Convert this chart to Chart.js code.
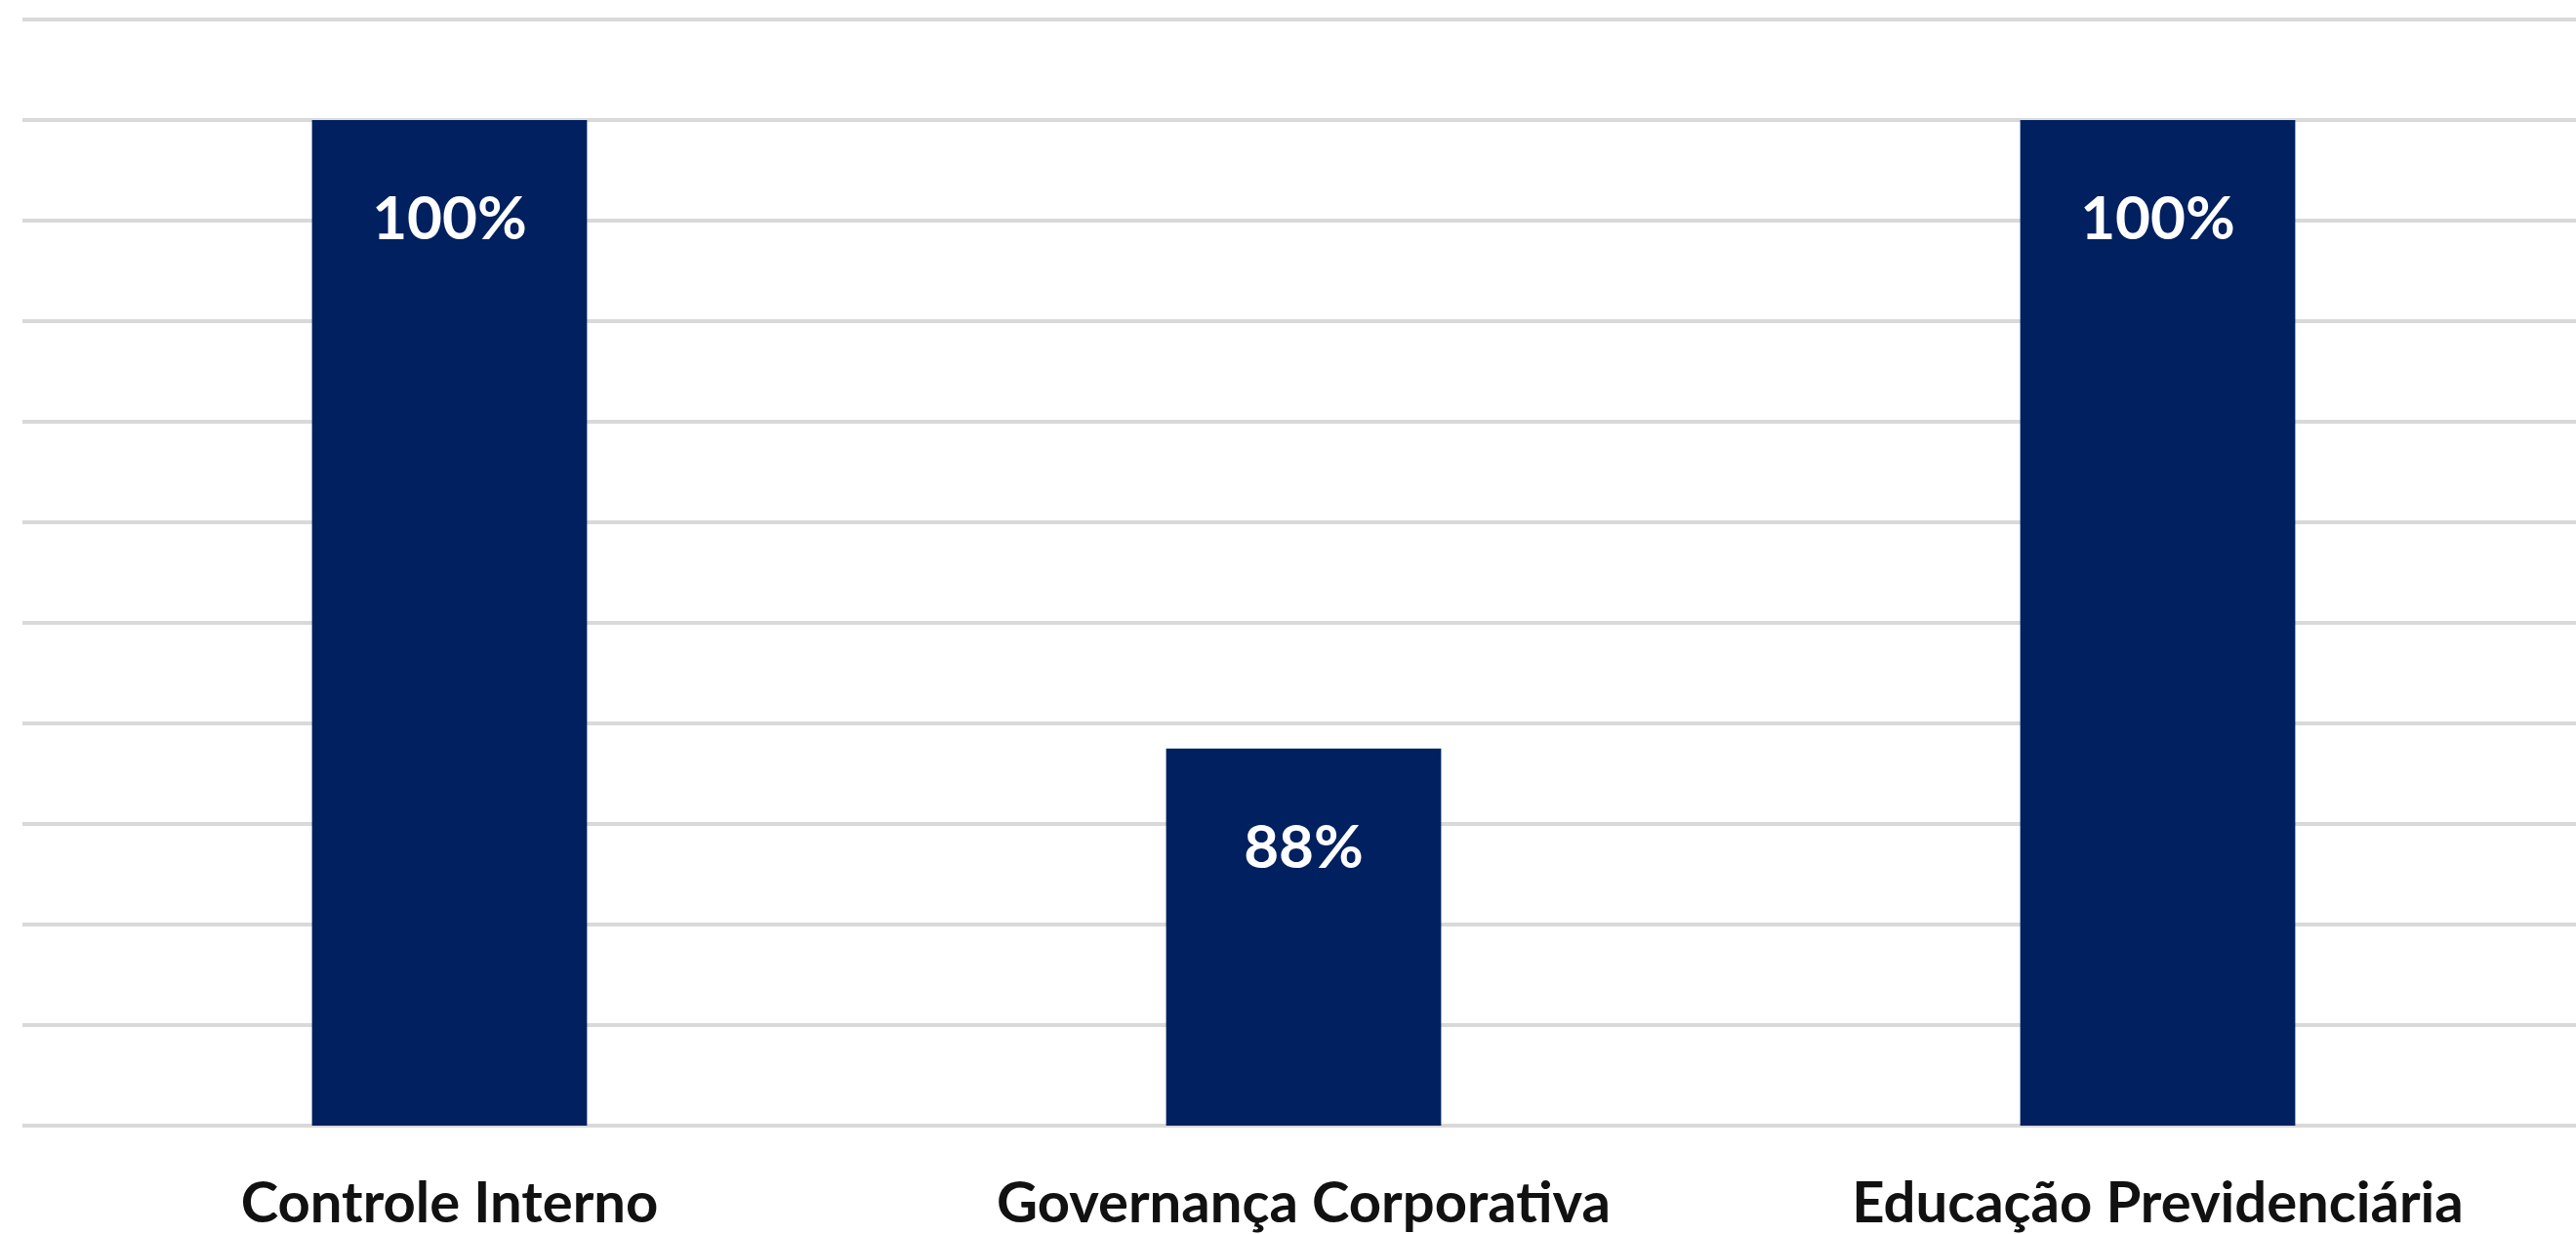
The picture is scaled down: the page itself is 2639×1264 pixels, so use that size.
<!DOCTYPE html>
<html>
<head>
<meta charset="utf-8">
<script src="https://cdn.jsdelivr.net/npm/chart.js@4/dist/chart.umd.min.js"></script>
<style>
  html, body { margin: 0; padding: 0; background: #fff; overflow: hidden; }
  canvas { display: block; }
</style>
</head>
<body>
<canvas id="chart" width="2650" height="1264"></canvas>
<script>
const categories = ['Controle Interno', 'Governança Corporativa', 'Educação Previdenciária']
const values = [100, 87.5, 100]
const axisMin = 80
const axisMax = 102
const axisStep = 2

// draws the white percentage inside each bar
const barLabels = {
  id: 'barLabels',
  afterDatasetsDraw(chart) {
    const ctx = chart.ctx
    const meta = chart.getDatasetMeta(0)
    ctx.save()
    ctx.fillStyle = '#ffffff'
    ctx.font = 'bold 62px Lato'
    ctx.textAlign = 'center'
    ctx.textBaseline = 'middle'
    meta.data.forEach((bar, i) => {
      ctx.fillText(Math.round(values[i]) + '%', bar.x, bar.y + 102)
    })
    ctx.restore()
  }
}

new Chart(document.getElementById('chart').getContext('2d'), {
  type: 'bar',
  data: {
    labels: categories,
    datasets: [{
      data: values,
      backgroundColor: '#002060',
      borderWidth: 0,
      barPercentage: 0.322,
      categoryPercentage: 1
    }]
  },
  options: {
    responsive: false,
    devicePixelRatio: 1,
    animation: false,
    layout: { padding: { top: 20, left: 23, right: 2, bottom: 0 } },
    plugins: {
      legend: { display: false },
      tooltip: { enabled: false }
    },
    scales: {
      x: {
        grid: { display: false, drawTicks: false },
        border: { display: false },
        ticks: {
          color: '#111111',
          font: { family: 'Lato', weight: 'bold', size: 58 },
          padding: 45,
          maxRotation: 0,
          autoSkip: false
        },
        afterFit(scale) { scale.height = 111 }
      },
      y: {
        min: axisMin,
        max: axisMax,
        border: { display: false },
        grid: { color: '#d9d9d9', lineWidth: 4, drawTicks: false },
        ticks: { display: false, stepSize: axisStep }
      }
    }
  },
  plugins: [barLabels]
})
</script>
</body>
</html>
